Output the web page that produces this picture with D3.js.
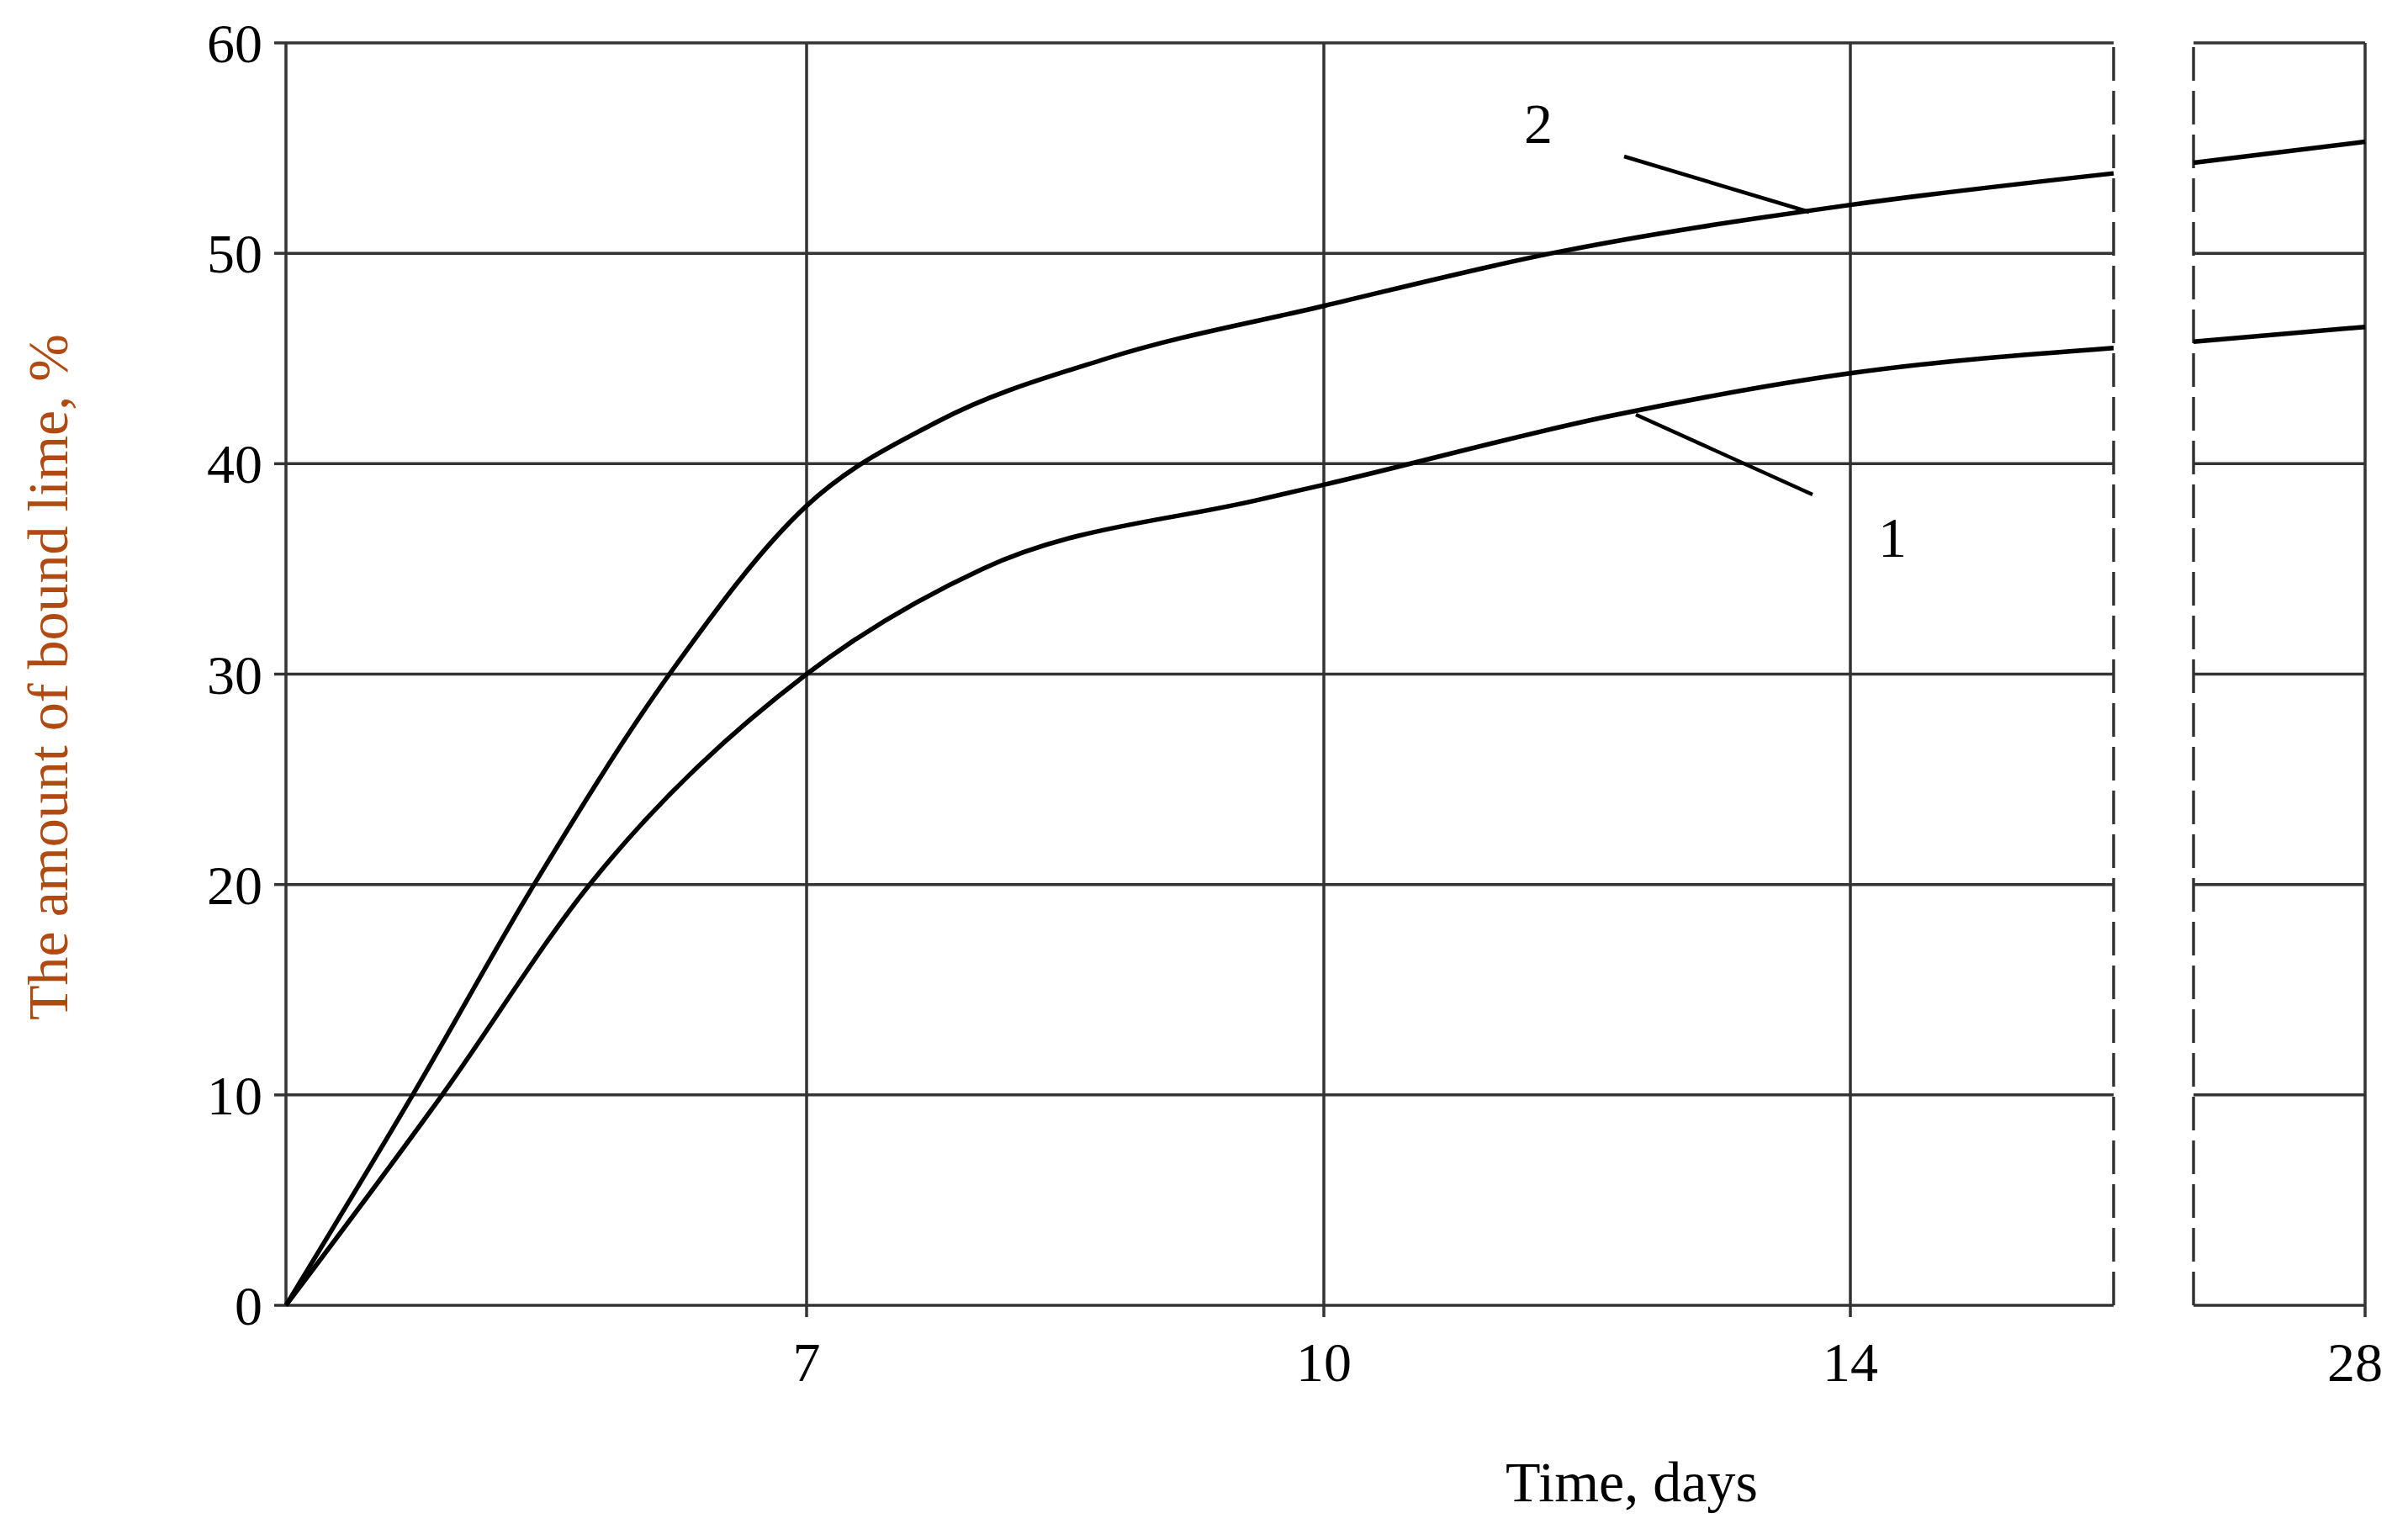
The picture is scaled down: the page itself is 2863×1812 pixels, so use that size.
<!DOCTYPE html><html><head><meta charset="utf-8">
<script src="https://cdn.jsdelivr.net/npm/d3@7"></script>
<style>body{margin:0;background:#fff}</style></head><body><svg id="c" width="2863" height="1812"></svg>
<script>
const xTicks=[7,10,14,28];
const yTicks=[0,10,20,30,40,50,60];
const breakDays=[16,26];
const curve2A=[[4,0],[4.73,10],[5.43,20],[6.21,30],[7,38],[7.76,42],[8.74,45],[10,47.5],[11.73,50],[14,52.3],[16,53.8]];
const curve2B=[[26,54.3],[28,55.3]];
const curve1A=[[4,0],[4.9,10],[5.75,20],[7,30],[8.02,35],[9.63,38.3],[10,39],[12.2,42.3],[14,44.3],[16,45.5]];
const curve1B=[[26,45.8],[28,46.5]];
const svg=d3.select("#c");
const x=d3.scaleLinear().domain([4,7,10,14,16,26,28]).range([340,959,1574,2200,2513,2608,2812]);
const y=d3.scaleLinear().domain([0,60]).range([1552,51]);
const font="Liberation Serif";
const segs=[[4,16],[26,28]];
yTicks.forEach(v=>segs.forEach(s=>svg.append("line").attr("x1",x(s[0])).attr("x2",x(s[1])).attr("y1",y(v)).attr("y2",y(v)).attr("stroke","#333").attr("stroke-width",3.5)));
[4,7,10,14,28].forEach(v=>svg.append("line").attr("x1",x(v)).attr("x2",x(v)).attr("y1",y(0)).attr("y2",y(60)).attr("stroke","#333").attr("stroke-width",3.5));
breakDays.forEach(v=>svg.append("line").attr("x1",x(v)).attr("x2",x(v)).attr("y1",y(0)).attr("y2",y(60)).attr("stroke","#333").attr("stroke-width",3.5).attr("stroke-dasharray","40,12"));
yTicks.forEach(v=>{svg.append("line").attr("x1",x(4)-14).attr("x2",x(4)).attr("y1",y(v)).attr("y2",y(v)).attr("stroke","#333").attr("stroke-width",3.5);
 svg.append("text").attr("x",x(4)-28).attr("y",y(v)).attr("dy","0.35em").attr("text-anchor","end").attr("font-family",font).attr("font-size",66).text(v);});
xTicks.forEach(v=>{svg.append("line").attr("x1",x(v)).attr("x2",x(v)).attr("y1",y(0)).attr("y2",y(0)+14).attr("stroke","#333").attr("stroke-width",3.5);
 svg.append("text").attr("x",x(v)-(v==28?12:0)).attr("y",1642).attr("text-anchor","middle").attr("font-family",font).attr("font-size",66).text(v);});
const line=d3.line().x(d=>x(d[0])).y(d=>y(d[1])).curve(d3.curveMonotoneX);
[curve1A,curve1B,curve2A,curve2B].forEach(c=>svg.append("path").attr("d",line(c)).attr("fill","none").attr("stroke","#000").attr("stroke-width",5.5));
svg.append("line").attr("x1",1931).attr("y1",186).attr("x2",2151).attr("y2",252).attr("stroke","#000").attr("stroke-width",4.5);
svg.append("text").attr("x",1812).attr("y",170).attr("font-family",font).attr("font-size",68).text("2");
svg.append("line").attr("x1",2155).attr("y1",588).attr("x2",1945).attr("y2",493).attr("stroke","#000").attr("stroke-width",4.5);
svg.append("text").attr("x",2233).attr("y",662).attr("font-family",font).attr("font-size",68).text("1");
svg.append("text").attr("x",1940).attr("y",1785).attr("text-anchor","middle").attr("font-family",font).attr("font-size",68).text("Time, days");
svg.append("text").attr("transform","translate(80,805) rotate(-90)").attr("text-anchor","middle").attr("font-family",font).attr("font-size",68).attr("fill","#b04a10").text("The amount of bound lime, %");
</script></body></html>
